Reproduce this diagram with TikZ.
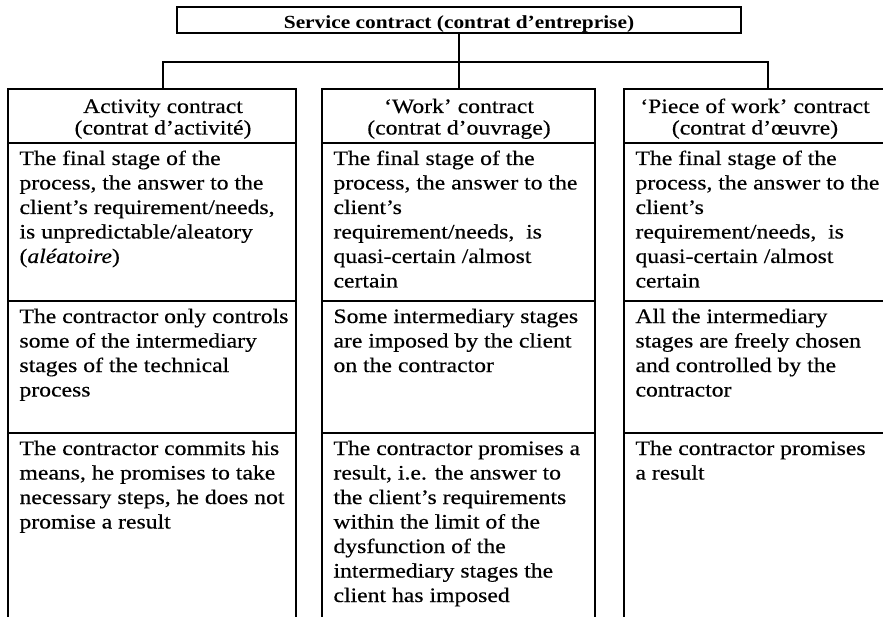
\documentclass[tikz,border=0pt]{standalone}
\usepackage{fontspec}
\setmainfont[FakeStretch=1.155,
  UprightFeatures={FakeBold=0.4},
  ItalicFeatures={FakeBold=0.4}]{Liberation Serif}
\usetikzlibrary{fit}
\tikzset{
  frame/.style={draw, line width=2pt, inner sep=0pt, outer sep=0pt},
  cell/.style={frame, fit={#1}},
  body/.style={anchor=north west, inner sep=0pt, outer sep=0pt, align=left,
    font=\fontsize{20.5}{24.5}\selectfont, xshift=11.5pt, yshift=-5pt},
  head/.style={anchor=north, inner sep=0pt, outer sep=0pt, align=center,
    font=\fontsize{20.5}{21.5}\selectfont},
  link/.style={line width=2pt},
}
\newcommand{\fl}{\rule{0pt}{17pt}}
\begin{document}
\begin{tikzpicture}[x=1pt,y=-1pt]
\useasboundingbox (0,0) rectangle (883,617);
% top box
\node[frame, minimum width=564pt, text height=22pt, text depth=4pt,
  font=\bfseries\fontsize{18.5}{20}\selectfont] (top) at (459,20)
  {Service contract (contrat d’entreprise)};
% header cells
\node[cell={(8,89)(296,143)}] (h1) {};
\node[cell={(322,89)(595,143)}] (h2) {};
\node[cell={(624,89)(900,143)}] (h3) {};
% row 1
\node[cell={(8,143)(296,301)}] (a1) {};
\node[cell={(322,143)(595,301)}] (b1) {};
\node[cell={(624,143)(900,301)}] (c1) {};
% row 2
\node[cell={(8,301)(296,433)}] (a2) {};
\node[cell={(322,301)(595,433)}] (b2) {};
\node[cell={(624,301)(900,433)}] (c2) {};
% row 3
\node[cell={(8,433)(296,640)}] (a3) {};
\node[cell={(322,433)(595,640)}] (b3) {};
\node[cell={(624,433)(900,640)}] (c3) {};
% connectors
\coordinate (d1) at (163,89);
\coordinate (d3) at (768,89);
\coordinate (bar) at (459,62);
\draw[link] (top.south) -- (top.south |- h2.north);
\draw[link] (d1) -- (d1 |- bar) -- (d3 |- bar) -- (d3);
% header texts
\node[head] (t1) at (163,96) {\fl Activity contract\\(contrat d’activité)};
\node[head] (t2) at (459,96) {\fl ‘Work’ contract\\(contrat d’ouvrage)};
\node[head] (t3) at (755,96) {\fl ‘Piece of work’ contract\\(contrat d’œuvre)};
% row texts
\node[body] (ta1) at (a1.north west) {\fl The final stage of the\\process, the answer to the\\client’s requirement/needs,\\is unpredictable/aleatory\\(\textit{aléatoire})};
\node[body] (tb1) at (b1.north west) {\fl The final stage of the\\process, the answer to the\\client’s\\requirement/needs,\ \ is\\quasi-certain /almost\\certain};
\node[body] (tc1) at (c1.north west) {\fl The final stage of the\\process, the answer to the\\client’s\\requirement/needs,\ \ is\\quasi-certain /almost\\certain};
\node[body] (ta2) at (a2.north west) {\fl The contractor only controls\\some of the intermediary\\stages of the technical\\process};
\node[body] (tb2) at (b2.north west) {\fl Some intermediary stages\\are imposed by the client\\on the contractor};
\node[body] (tc2) at (c2.north west) {\fl All the intermediary\\stages are freely chosen\\and controlled by the\\contractor};
\node[body] (ta3) at (a3.north west) {\fl The contractor commits his\\means, he promises to take\\necessary steps, he does not\\promise a result};
\node[body] (tb3) at (b3.north west) {\fl The contractor promises a\\result, i.e. the answer to\\the client’s requirements\\within the limit of the\\dysfunction of the\\intermediary stages the\\client has imposed};
\node[body] (tc3) at (c3.north west) {\fl The contractor promises\\a result};
\end{tikzpicture}
\end{document}
